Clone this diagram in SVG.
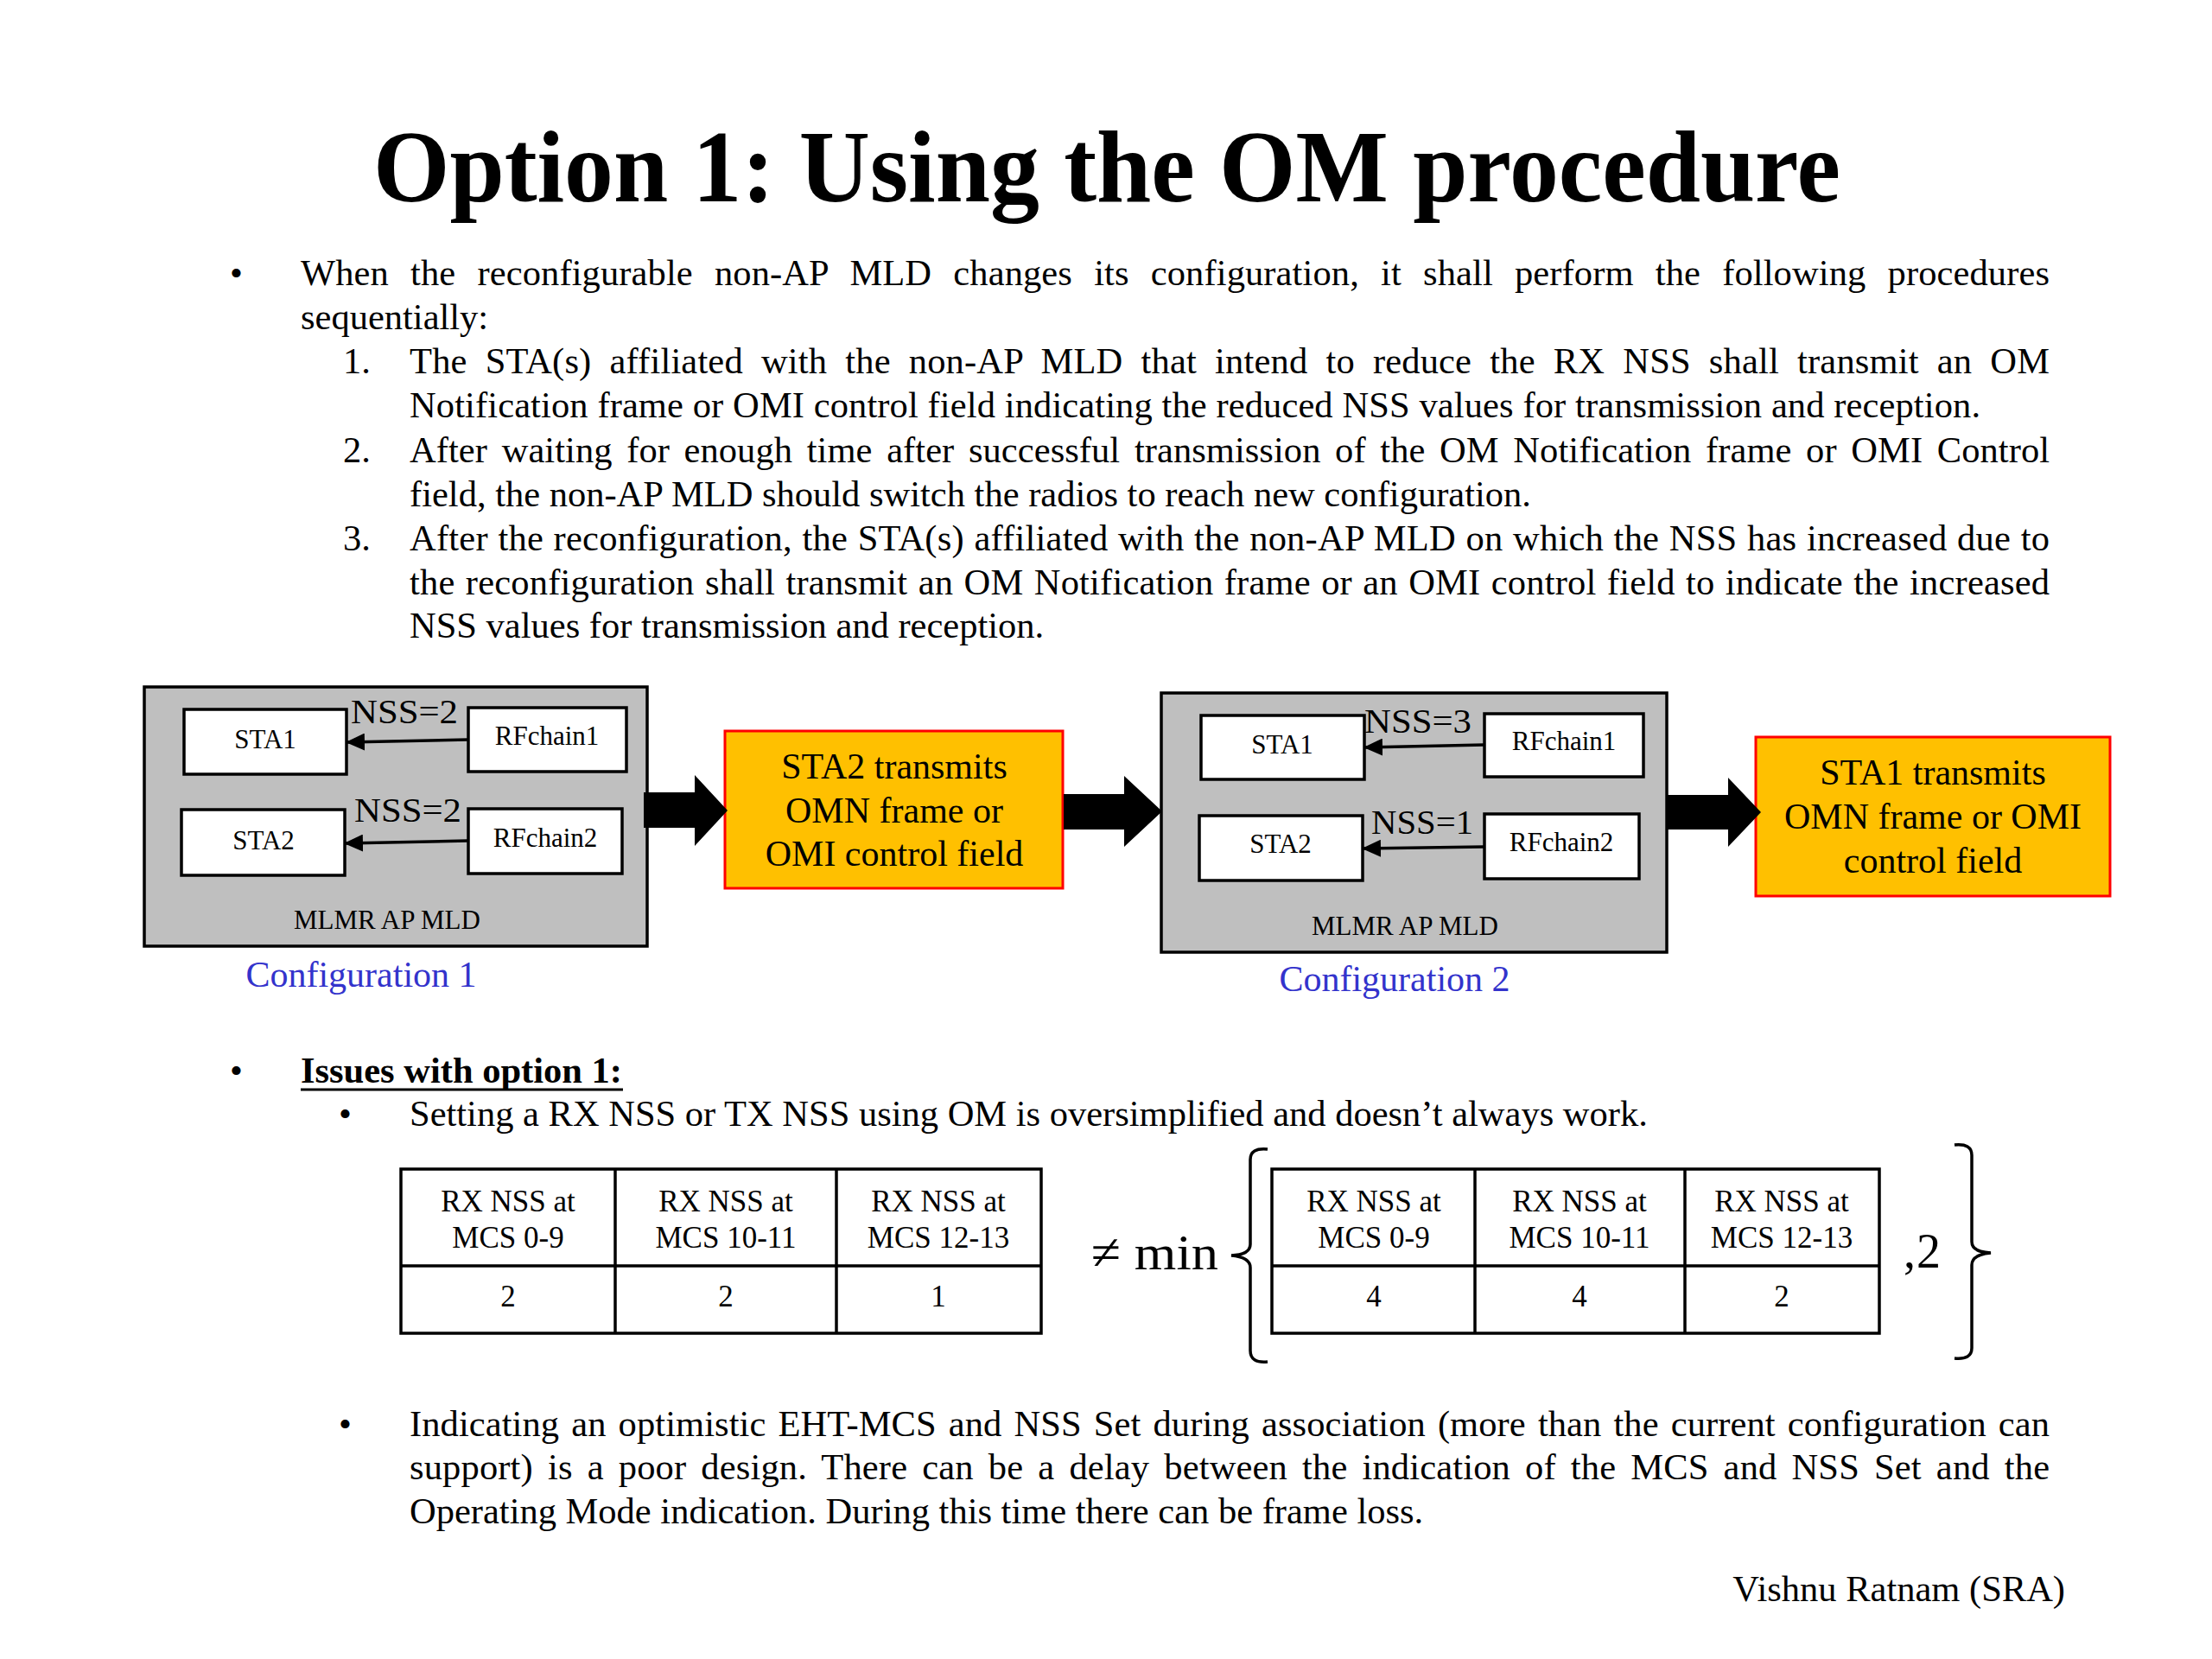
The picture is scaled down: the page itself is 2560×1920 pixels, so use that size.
<svg xmlns="http://www.w3.org/2000/svg" width="2560" height="1920" viewBox="0 0 2560 1920">
<style>
text{font-family:"Liberation Serif","Times New Roman",serif;fill:#000}
.title{font-size:118px;font-weight:bold}
.body{font-size:42.5px}
.bold{font-weight:bold}
.lbl{font-size:31px;text-anchor:middle}
.nss{font-size:40px}
.cfg{font-size:42px;fill:#3333CC;text-anchor:middle}
.org{font-size:42px;text-anchor:middle}
.tbl{font-size:35px;text-anchor:middle}
.math{font-size:58px}
.gray{fill:#BFBFBF;stroke:#000;stroke-width:3.5}
.wbox{fill:#fff;stroke:#000;stroke-width:3.5}
.obox{fill:#FFC000;stroke:#FF0000;stroke-width:3}
.tline{fill:none;stroke:#000;stroke-width:3.5}
.conn{stroke:#000;stroke-width:3.5;fill:none}
.blk{fill:#000}
</style>
<defs>
<marker id="ah" markerUnits="userSpaceOnUse" markerWidth="22" markerHeight="20" refX="20" refY="10" orient="auto">
<path d="M0,0 L22,10 L0,20 Z" fill="#000"/>
</marker>
</defs>
<rect x="0" y="0" width="2560" height="1920" fill="#fff"/>

<text class="title" x="432" y="233" textLength="1698" lengthAdjust="spacingAndGlyphs">Option 1: Using the OM procedure</text>

<g id="bullets-top" class="body">
<text x="266" y="330">•</text>
<text x="348" y="330" word-spacing="14.4" textLength="2024" lengthAdjust="spacing">When the reconfigurable non-AP MLD changes its configuration, it shall perform the following procedures</text>
<text x="348" y="381">sequentially:</text>
<text x="397" y="432">1.</text>
<text x="474" y="432" word-spacing="10.3" textLength="1898" lengthAdjust="spacing">The STA(s) affiliated with the non-AP MLD that intend to reduce the RX NSS shall transmit an OM</text>
<text x="474" y="483" textLength="1818" lengthAdjust="spacing">Notification frame or OMI control field indicating the reduced NSS values for transmission and reception.</text>
<text x="397" y="535">2.</text>
<text x="474" y="535" word-spacing="6" textLength="1898" lengthAdjust="spacing">After waiting for enough time after successful transmission of the OM Notification frame or OMI Control</text>
<text x="474" y="586">field, the non-AP MLD should switch the radios to reach new configuration.</text>
<text x="397" y="637">3.</text>
<text x="474" y="637" word-spacing="0.7" textLength="1898" lengthAdjust="spacing">After the reconfiguration, the STA(s) affiliated with the non-AP MLD on which the NSS has increased due to</text>
<text x="474" y="688" word-spacing="1.6" textLength="1898" lengthAdjust="spacing">the reconfiguration shall transmit an OM Notification frame or an OMI control field to indicate the increased</text>
<text x="474" y="738">NSS values for transmission and reception.</text>
</g>

<g id="config1">
<rect class="gray" x="167" y="795" width="582" height="300"/>
<text class="lbl" x="448" y="1075">MLMR AP MLD</text>
</g>
<g id="c1-sta1"><rect class="wbox" x="213" y="821" width="188" height="75"/><text class="lbl" x="307" y="866">STA1</text></g>
<g id="c1-rf1"><rect class="wbox" x="542" y="819" width="183" height="74"/><text class="lbl" x="633" y="862">RFchain1</text></g>
<g id="c1-sta2"><rect class="wbox" x="210" y="937" width="189" height="76"/><text class="lbl" x="305" y="983">STA2</text></g>
<g id="c1-rf2"><rect class="wbox" x="542" y="936" width="178" height="75"/><text class="lbl" x="631" y="980">RFchain2</text></g>
<text class="cfg" x="418" y="1142">Configuration 1</text>

<g id="step1">
<rect class="obox" x="839" y="846" width="391" height="182"/>
<text class="org" x="1035" y="901">STA2 transmits</text>
<text class="org" x="1035" y="952">OMN frame or</text>
<text class="org" x="1035" y="1002">OMI control field</text>
</g>

<g id="config2">
<rect class="gray" x="1344" y="802" width="585" height="300"/>
<text class="lbl" x="1626" y="1082">MLMR AP MLD</text>
</g>
<g id="c2-sta1"><rect class="wbox" x="1390" y="828" width="189" height="74"/><text class="lbl" x="1484" y="872">STA1</text></g>
<g id="c2-rf1"><rect class="wbox" x="1718" y="826" width="184" height="73"/><text class="lbl" x="1810" y="868">RFchain1</text></g>
<g id="c2-sta2"><rect class="wbox" x="1388" y="944" width="189" height="75"/><text class="lbl" x="1482" y="987">STA2</text></g>
<g id="c2-rf2"><rect class="wbox" x="1718" y="942" width="179" height="75"/><text class="lbl" x="1807" y="985">RFchain2</text></g>
<text class="cfg" x="1614" y="1147">Configuration 2</text>

<g id="step2">
<rect class="obox" x="2032" y="853" width="410" height="184"/>
<text class="org" x="2237" y="908">STA1 transmits</text>
<text class="org" x="2237" y="959">OMN frame or OMI</text>
<text class="org" x="2237" y="1010">control field</text>
</g>

<g id="connectors">
<line class="conn" x1="542" y1="856" x2="402" y2="859" marker-end="url(#ah)"/>
<line class="conn" x1="542" y1="973" x2="400" y2="976" marker-end="url(#ah)"/>
<line class="conn" x1="1718" y1="862" x2="1580" y2="865" marker-end="url(#ah)"/>
<line class="conn" x1="1718" y1="980" x2="1578" y2="982" marker-end="url(#ah)"/>
<polygon class="blk" points="745,917 804,917 804,897 842,938 804,979 804,958 745,958"/>
<polygon class="blk" points="1231,919 1301,919 1301,898 1345,939 1301,980 1301,960 1231,960"/>
<polygon class="blk" points="1930,920 2000,920 2000,900 2038,940 2000,980 2000,960 1930,960"/>
</g>
<g id="nss-labels" class="nss">
<text x="406" y="837" textLength="124" lengthAdjust="spacingAndGlyphs">NSS=2</text>
<text x="410" y="951" textLength="124" lengthAdjust="spacingAndGlyphs">NSS=2</text>
<text x="1579" y="848" textLength="124" lengthAdjust="spacingAndGlyphs">NSS=3</text>
<text x="1587" y="965" textLength="118" lengthAdjust="spacingAndGlyphs">NSS=1</text>
</g>

<g id="issues" class="body">
<text x="266" y="1253">•</text>
<text class="bold" x="348" y="1253">Issues with option 1:</text>
<line x1="348" y1="1261" x2="721" y2="1261" stroke="#000" stroke-width="3"/>
<text x="392" y="1303">•</text>
<text x="474" y="1303">Setting a RX NSS or TX NSS using OM is oversimplified and doesn’t always work.</text>
</g>

<g id="table1">
<rect class="tline" x="464" y="1353" width="741" height="190"/>
<line class="tline" x1="464" y1="1465" x2="1205" y2="1465"/>
<line class="tline" x1="712" y1="1353" x2="712" y2="1543"/>
<line class="tline" x1="968" y1="1353" x2="968" y2="1543"/>
<text class="tbl" x="588" y="1402">RX NSS at</text>
<text class="tbl" x="588" y="1444">MCS 0-9</text>
<text class="tbl" x="840" y="1402">RX NSS at</text>
<text class="tbl" x="840" y="1444">MCS 10-11</text>
<text class="tbl" x="1086" y="1402">RX NSS at</text>
<text class="tbl" x="1086" y="1444">MCS 12-13</text>
<text class="tbl" x="588" y="1512">2</text>
<text class="tbl" x="840" y="1512">2</text>
<text class="tbl" x="1086" y="1512">1</text>
</g>

<text class="math" x="1263" y="1469" textLength="147" lengthAdjust="spacingAndGlyphs">≠ min</text>

<path class="tline" d="M1467,1330 Q1447,1328 1447,1342 L1447,1440 Q1447,1452 1425,1453 Q1447,1455 1447,1467 L1447,1563 Q1447,1578 1467,1576"/>

<g id="table2">
<rect class="tline" x="1472" y="1353" width="703" height="190"/>
<line class="tline" x1="1472" y1="1465" x2="2175" y2="1465"/>
<line class="tline" x1="1707" y1="1353" x2="1707" y2="1543"/>
<line class="tline" x1="1950" y1="1353" x2="1950" y2="1543"/>
<text class="tbl" x="1590" y="1402">RX NSS at</text>
<text class="tbl" x="1590" y="1444">MCS 0-9</text>
<text class="tbl" x="1828" y="1402">RX NSS at</text>
<text class="tbl" x="1828" y="1444">MCS 10-11</text>
<text class="tbl" x="2062" y="1402">RX NSS at</text>
<text class="tbl" x="2062" y="1444">MCS 12-13</text>
<text class="tbl" x="1590" y="1512">4</text>
<text class="tbl" x="1828" y="1512">4</text>
<text class="tbl" x="2062" y="1512">2</text>
</g>

<text x="2203" y="1467" style="font-size:56px">,<tspan x="2218">2</tspan></text>
<path class="tline" d="M2262,1325 Q2282,1323 2282,1337 L2282,1437 Q2282,1449 2304,1450 Q2282,1452 2282,1464 L2282,1560 Q2282,1574 2262,1572"/>

<g id="bullet3" class="body">
<text x="392" y="1662">•</text>
<text x="474" y="1662" word-spacing="3.4" textLength="1898" lengthAdjust="spacing">Indicating an optimistic EHT-MCS and NSS Set during association (more than the current configuration can</text>
<text x="474" y="1712" word-spacing="6.3" textLength="1898" lengthAdjust="spacing">support) is a poor design. There can be a delay between the indication of the MCS and NSS Set and the</text>
<text x="474" y="1763">Operating Mode indication. During this time there can be frame loss.</text>
</g>

<text class="body" x="2390" y="1853" text-anchor="end">Vishnu Ratnam (SRA)</text>
</svg>
